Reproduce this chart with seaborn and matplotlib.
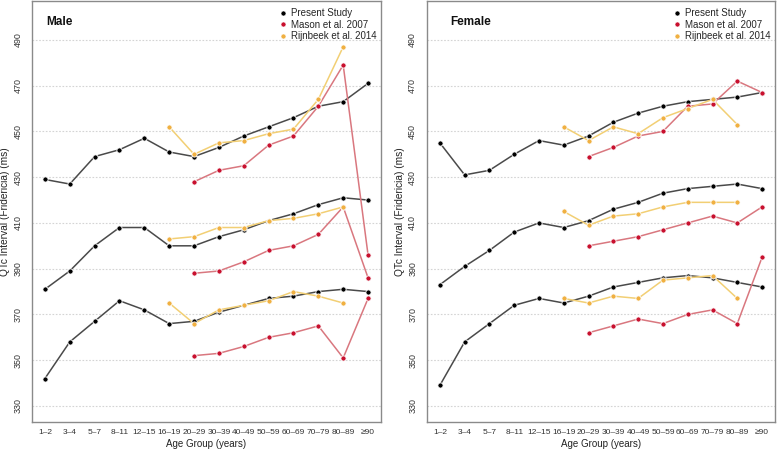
import numpy as np
import pandas as pd
import matplotlib
matplotlib.use("Agg")
import matplotlib.pyplot as plt
from matplotlib.lines import Line2D
import seaborn as sns

# -------------------------------
# Data
# -------------------------------
age_groups = ["1–2", "3–4", "5–7", "8–11", "12–15", "16–19", "20–29",
              "30–39", "40–49", "50–59", "60–69", "70–79", "80–89", "≥90"]

na = np.nan

# Male
male_present_upper = [429, 427, 439, 442, 447, 441, 439, 443, 448, 452, 456, 461, 463, 471]
male_present_median = [381, 389, 400, 408, 408, 400, 400, 404, 407, 411, 414, 418, 421, 420]
male_present_lower = [342, 358, 367, 376, 372, 366, 367, 371, 374, 377, 378, 380, 381, 380]

male_mason_upper = [na, na, na, na, na, na, 428, 433, 435, 444, 448, 461, 479, 396]
male_mason_median = [na, na, na, na, na, na, 388, 389, 393, 398, 400, 405, 417, 386]
male_mason_lower = [na, na, na, na, na, na, 352, 353, 356, 360, 362, 365, 351, 377]

male_rijn_upper = [na, na, na, na, na, 452, 440, 445, 446, 449, 451, 464, 487, na]
male_rijn_median = [na, na, na, na, na, 403, 404, 408, 408, 411, 412, 414, 417, na]
male_rijn_lower = [na, na, na, na, na, 375, 366, 372, 374, 376, 380, 378, 375, na]

# Female
female_present_upper = [445, 431, 433, 440, 446, 444, 448, 454, 458, 461, 463, 464, 465, 467]
female_present_median = [383, 391, 398, 406, 410, 408, 411, 416, 419, 423, 425, 426, 427, 425]
female_present_lower = [339, 358, 366, 374, 377, 375, 378, 382, 384, 386, 387, 386, 384, 382]

female_mason_upper = [na, na, na, na, na, na, 439, 443, 448, 450, 461, 462, 472, 467]
female_mason_median = [na, na, na, na, na, na, 400, 402, 404, 407, 410, 413, 410, 417]
female_mason_lower = [na, na, na, na, na, na, 362, 365, 368, 366, 370, 372, 366, 395]

female_rijn_upper = [na, na, na, na, na, 452, 446, 452, 449, 456, 460, 464, 453, na]
female_rijn_median = [na, na, na, na, na, 415, 409, 413, 414, 417, 419, 419, 419, na]
female_rijn_lower = [na, na, na, na, na, 377, 375, 378, 377, 385, 386, 387, 377, na]

studies = ["Present Study", "Mason et al. 2007", "Rijnbeek et al. 2014"]
line_colors = {"Present Study": "#4a4a4a",
               "Mason et al. 2007": "#d9777f",
               "Rijnbeek et al. 2014": "#f2cf74"}
dot_colors = {"Present Study": "#000000",
              "Mason et al. 2007": "#c8102e",
              "Rijnbeek et al. 2014": "#f0b041"}

panels = {
    "Male": {
        "Present Study": [male_present_upper, male_present_median, male_present_lower],
        "Mason et al. 2007": [male_mason_upper, male_mason_median, male_mason_lower],
        "Rijnbeek et al. 2014": [male_rijn_upper, male_rijn_median, male_rijn_lower],
    },
    "Female": {
        "Present Study": [female_present_upper, female_present_median, female_present_lower],
        "Mason et al. 2007": [female_mason_upper, female_mason_median, female_mason_lower],
        "Rijnbeek et al. 2014": [female_rijn_upper, female_rijn_median, female_rijn_lower],
    },
}

# -------------------------------
# Style
# -------------------------------
sns.set_style("white")
plt.rcParams["font.family"] = ["Liberation Sans", "DejaVu Sans"]

fig = plt.figure(figsize=(7.78, 4.54), dpi=100)
ax_pos = [[0.0411, 0.0705, 0.4486, 0.9273],
          [0.5488, 0.0705, 0.4473, 0.9273]]
title_x = [0.04, 0.066]

yticks = [330, 350, 370, 390, 410, 430, 450, 470, 490]
pos = np.arange(len(age_groups))

for (panel, series), rect, tx in zip(panels.items(), ax_pos, title_x):
    ax = fig.add_axes(rect)

    for y in yticks:
        ax.axhline(y, color="#d4d4d4", lw=0.8, ls=(0, (1.5, 1.5)), zorder=0)

    # draw order: Present first, then Mason, then Rijnbeek on top
    for study in studies:
        for vals in series[study]:
            df = pd.DataFrame({"pos": pos, "qtc": vals}).dropna()
            sns.lineplot(data=df, x="pos", y="qtc", ax=ax,
                         color=line_colors[study], lw=1.1, zorder=2)
            sns.scatterplot(data=df, x="pos", y="qtc", ax=ax,
                            color=dot_colors[study], s=14, edgecolor="white",
                            linewidth=0.6, zorder=3)

    ax.set_xlim(-0.52, 13.52)
    ax.set_ylim(323, 507)
    ax.set_xticks(pos)
    ax.set_xticklabels(age_groups, fontsize=6, color="#333333")
    ax.set_yticks(yticks)
    ax.set_yticklabels([str(v) for v in yticks], fontsize=6.4,
                       rotation=90, va="center", color="#333333")
    ax.tick_params(axis="both", length=3, width=0.8, color="#777777")
    ax.tick_params(axis="x", pad=2)
    ax.tick_params(axis="y", pad=4)

    ax.set_xlabel("Age Group (years)", fontsize=7, color="#222222", labelpad=2)
    ax.set_ylabel("QTc Interval (Fridericia) (ms)", fontsize=7.3,
                  color="#222222", labelpad=2)

    for sp in ax.spines.values():
        sp.set_color("#8a8a8a")
        sp.set_linewidth(1.0)

    ax.text(tx, 0.95, panel, transform=ax.transAxes, fontsize=8.5,
            fontweight="bold", color="#111111", va="center")

    handles = [Line2D([], [], marker="o", ls="none", markersize=3.6,
                      markerfacecolor=dot_colors[s], markeredgecolor="white",
                      markeredgewidth=0.4) for s in studies]
    ax.legend(handles, studies, loc="upper right", frameon=False, fontsize=7,
              handletextpad=0.3, borderaxespad=0.2, labelspacing=0.15,
              handlelength=1.0, bbox_to_anchor=(1.005, 0.997))

fig.savefig("out.png", dpi=100)
